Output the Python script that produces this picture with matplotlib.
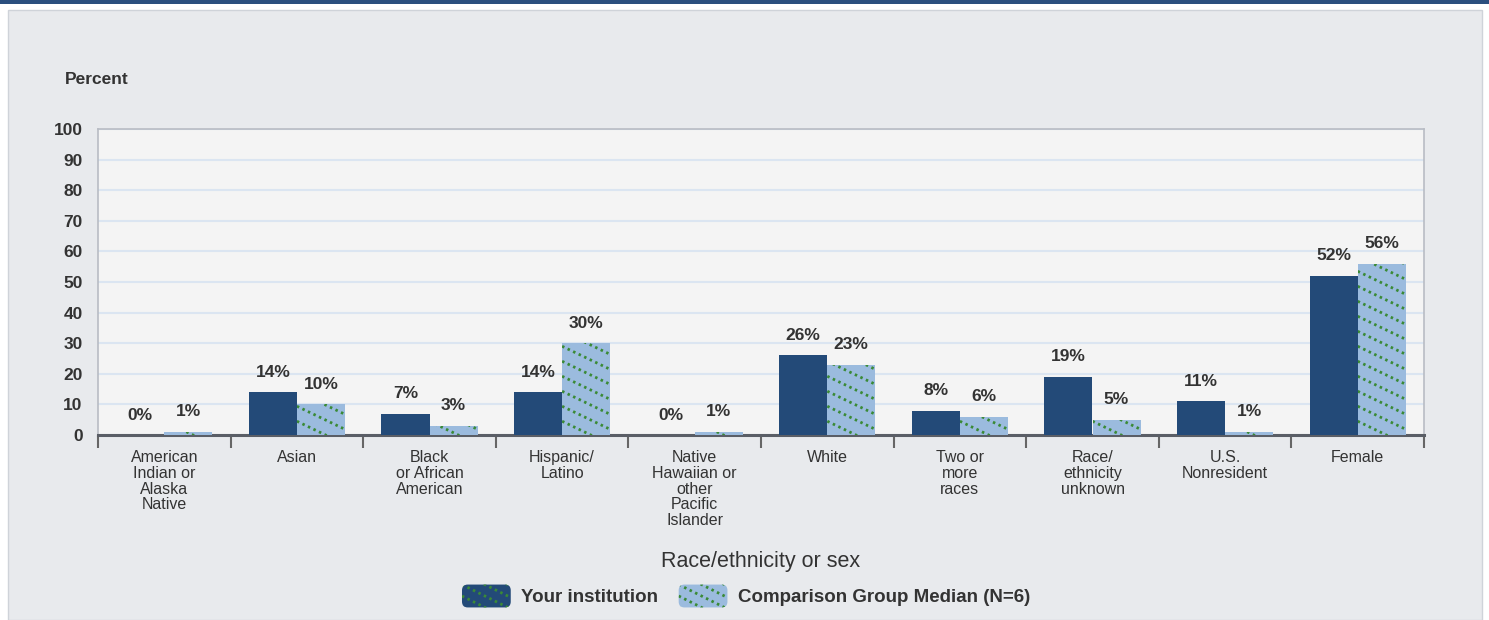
import matplotlib
matplotlib.use("Agg")
import matplotlib.pyplot as plt
import numpy as np
from matplotlib.patches import Rectangle, FancyBboxPatch
from matplotlib.lines import Line2D
from matplotlib.legend_handler import HandlerBase

plt.rcParams['font.family'] = ['Liberation Sans', 'DejaVu Sans']

categories = ["American\nIndian or\nAlaska\nNative", "Asian", "Black\nor African\nAmerican",
              "Hispanic/\nLatino", "Native\nHawaiian or\nother\nPacific\nIslander", "White",
              "Two or\nmore\nraces", "Race/\nethnicity\nunknown", "U.S.\nNonresident", "Female"]
your_institution = [0, 14, 7, 14, 0, 26, 8, 19, 11, 52]
comparison_median = [1, 10, 3, 30, 1, 23, 6, 5, 1, 56]
series_names = ["Your institution", "Comparison Group Median (N=6)"]
y_ticks = [0, 10, 20, 30, 40, 50, 60, 70, 80, 90, 100]

DARK = "#234a78"
LIGHT = "#9bbbde"
GREEN = "#3a8a36"
PANEL = "#e8eaed"
TEXT = "#333333"
DOTS = (0, (0.9, 1.3))

W, H = 1489, 620
fig = plt.figure(figsize=(W / 100, H / 100), dpi=100)
fig.patch.set_facecolor("white")

# outer panel and top rule
fig.patches.append(Rectangle((8 / W, 0), (1482 - 8) / W, 1 - 10 / H, transform=fig.transFigure,
                             facecolor=PANEL, edgecolor="#cfd3d9", linewidth=1.0, zorder=-10))
fig.patches.append(Rectangle((0, 1 - 4 / H), 1, 4 / H, transform=fig.transFigure,
                             facecolor="#2b4f7e", edgecolor="none", zorder=-10))

ax = fig.add_axes([98 / W, 1 - 435 / H, (1424 - 98) / W, (435 - 129) / H])
ax.set_zorder(2)
ax.set_facecolor("#f4f4f4")

n = len(categories)
x = np.arange(n) + 0.5
bw = 0.362

bars1 = ax.bar(x - bw / 2, your_institution, bw, color=DARK, zorder=3)
bars2 = ax.bar(x + bw / 2, comparison_median, bw, color=LIGHT, zorder=3)

# dotted diagonal hatch on comparison bars, clipped to each bar
slope = -20.8   # data units (y per x) -> about -0.48 in pixels
spacing = 4.9
for b in bars2:
    x0 = b.get_x()
    x1 = x0 + b.get_width()
    h = b.get_height()
    if h <= 0:
        continue
    for off in np.arange(-20, h + 20, spacing):
        xs = np.array([x0, x1])
        ys = off + slope * (xs - x0)
        ln = Line2D(xs, ys, color=GREEN, linewidth=2.0, linestyle=DOTS, zorder=4)
        ax.add_line(ln)
        ln.set_clip_path(b)

# value labels
for b, v in zip(bars1, your_institution):
    ax.annotate(f"{v}%", (b.get_x() + b.get_width() / 2, v), xytext=(0, 9),
                textcoords="offset points", ha="center", va="bottom",
                fontsize=12.5, fontweight="bold", color=TEXT, zorder=5)
for b, v in zip(bars2, comparison_median):
    ax.annotate(f"{v}%", (b.get_x() + b.get_width() / 2, v), xytext=(0, 9),
                textcoords="offset points", ha="center", va="bottom",
                fontsize=12.5, fontweight="bold", color=TEXT, zorder=5)

ax.set_xlim(0, n)
ax.set_ylim(0, 100)
ax.set_yticks(y_ticks)
ax.set_yticklabels([str(t) for t in y_ticks], fontsize=12.5, fontweight="bold", color=TEXT)
ax.tick_params(axis="y", length=0, pad=11)
ax.grid(axis="y", color="#dbe5f1", linewidth=1.5, zorder=0)
ax.set_axisbelow(True)

ax.set_xticks(x)
ax.set_xticklabels(categories, fontsize=11.5, color=TEXT, linespacing=1.06, va="top")
ax.tick_params(axis="x", which="major", length=0, pad=11)
ax.set_xticks(np.arange(n + 1), minor=True)
ax.tick_params(axis="x", which="minor", length=9, width=1.5, color="#666666", direction="out")

for s in ["top", "left", "right"]:
    ax.spines[s].set_color("#b8bcc4")
    ax.spines[s].set_linewidth(1.2)
ax.spines["bottom"].set_color("#5a5e66")
ax.spines["bottom"].set_linewidth(2.2)

fig.text(65 / W, 1 - 79 / H, "Percent", fontsize=12.5, fontweight="bold", color=TEXT,
         ha="left", va="center")
fig.text(761 / W, 1 - 562 / H, "Race/ethnicity or sex", fontsize=15.5, color=TEXT,
         ha="center", va="center")


class RoundHatchHandler(HandlerBase):
    def __init__(self, color):
        super().__init__()
        self.color = color

    def create_artists(self, legend, orig_handle, xdescent, ydescent, width, height,
                       fontsize, trans):
        box = FancyBboxPatch((-xdescent, -ydescent), width, height,
                             boxstyle="round,pad=0,rounding_size=%g" % (height * 0.25),
                             facecolor=self.color, edgecolor="none", transform=trans)
        arts = [box]
        sp = height * 0.5
        for off in np.arange(-height, height + width * 0.6 + sp, sp):
            xs = np.array([-xdescent, -xdescent + width])
            ys = -ydescent + off - 0.5 * (xs + xdescent)
            ln = Line2D(xs, ys, color=GREEN, linewidth=2.0, linestyle=DOTS, transform=trans)
            ln.set_clip_path(box)
            arts.append(ln)
        return arts


h1 = Rectangle((0, 0), 1, 1)
h2 = Rectangle((0, 0), 1, 1)
fig.legend([h1, h2], series_names, loc="center", bbox_to_anchor=(746 / W, 1 - 596 / H),
           ncol=2, frameon=False, prop={"weight": "bold", "size": 13.5},
           handlelength=2.6, handleheight=1.5, handletextpad=0.55, columnspacing=1.1,
           labelcolor=TEXT,
           handler_map={h1: RoundHatchHandler(DARK), h2: RoundHatchHandler(LIGHT)})

fig.savefig("out.png", dpi=100, facecolor=fig.get_facecolor())
